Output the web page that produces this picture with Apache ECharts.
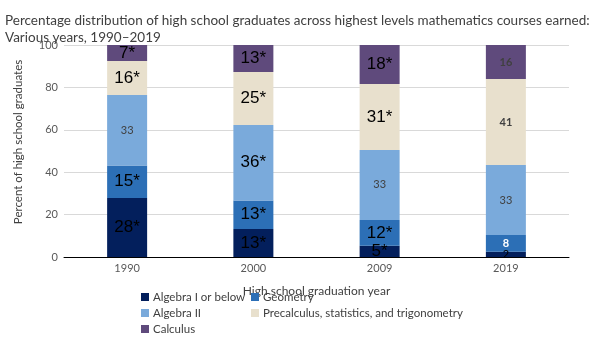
<!DOCTYPE html>
<html>
<head>
<meta charset="utf-8">
<script src="https://cdn.jsdelivr.net/npm/echarts@6/dist/echarts.min.js"></script>
<style>html,body{margin:0;padding:0;background:#fff}#c{width:605px;height:340px}</style>
</head>
<body>
<div id="c"></div>
<script>
const categories = ['1990', '2000', '2009', '2019'];
const seriesNames = ['Algebra I or below', 'Geometry', 'Algebra II', 'Precalculus, statistics, and trigonometry', 'Calculus'];
const algebra1 = [27.8, 13.2, 5.3, 2.5];
const geometry = [15.4, 13.4, 12.2, 7.9];
const algebra2 = [33.2, 35.7, 33.0, 33.0];
const precalc = [16.1, 25.0, 31.1, 40.6];
const calculus = [7.5, 12.7, 18.4, 16.0];
const labelAlgebra1 = ['28*', '13*', '5*', '2'];
const labelGeometry = ['15*', '13*', '12*', '8'];
const labelAlgebra2 = ['33', '36*', '33', '33'];
const labelPrecalc = ['16*', '25*', '31*', '41'];
const labelCalculus = ['7*', '13*', '18*', '16'];
const yTicks = [0, 20, 40, 60, 80, 100];

const values = [algebra1, geometry, algebra2, precalc, calculus];
const labels = [labelAlgebra1, labelGeometry, labelAlgebra2, labelPrecalc, labelCalculus];
const colors = ['#031f5c', '#2c6fb6', '#7aaadb', '#e8e0cd', '#5f4a7c'];
const smallColors = ['#000000', '#ffffff', '#404040', '#404040', '#404040'];

const series = seriesNames.map((name, si) => ({
  name: name,
  type: 'bar',
  stack: 'total',
  barWidth: 40,
  itemStyle: { color: colors[si] },
  data: values[si].map((v, i) => {
    const txt = labels[si][i];
    const big = txt.indexOf('*') >= 0;
    return {
      value: v,
      label: {
        show: true,
        position: 'inside',
        formatter: txt,
        fontFamily: big ? 'Liberation Sans' : 'Lato',
        fontSize: big ? 17 : 11,
        color: big ? '#000000' : smallColors[si],
        fontWeight: (!big && i === 3 && si >= 1 && si !== 2) ? 'bold' : 'normal'
      }
    };
  })
}));

const legendPos = [
  { left: 141, top: 291 },
  { left: 251, top: 291 },
  { left: 141, top: 307 },
  { left: 251, top: 307 },
  { left: 141, top: 323 }
];
const legends = seriesNames.map((n, i) => ({
  data: [n],
  left: legendPos[i].left,
  top: legendPos[i].top,
  padding: 0,
  itemWidth: 8,
  itemHeight: 8,
  itemGap: 4,
  icon: 'rect',
  textStyle: { fontFamily: 'Lato', fontSize: 11.5, color: '#404040', padding: [0, 0, 0, -1] }
}));

const chart = echarts.init(document.getElementById('c'), null, { renderer: 'canvas' });
chart.setOption({
  animation: false,
  backgroundColor: '#fff',
  title: {
    text: 'Percentage distribution of high school graduates across highest levels mathematics courses earned:\nVarious years, 1990–2019',
    left: 5,
    top: 12,
    padding: 0,
    textStyle: { fontFamily: 'Lato', fontSize: 13.5, fontWeight: 'normal', color: '#404040', lineHeight: 17 }
  },
  legend: legends,
  grid: { left: 64, right: 36, top: 45, bottom: 83 },
  xAxis: {
    type: 'category',
    data: categories,
    name: 'High school graduation year',
    nameLocation: 'middle',
    nameGap: 28,
    nameTextStyle: { fontFamily: 'Lato', fontSize: 12, color: '#404040' },
    axisLine: { lineStyle: { color: '#000', width: 1 } },
    axisTick: { show: false },
    axisLabel: { fontFamily: 'Lato', fontSize: 11, color: '#595959', margin: 6 }
  },
  yAxis: {
    type: 'value',
    min: 0,
    max: 100,
    interval: 20,
    name: 'Percent of high school graduates',
    nameLocation: 'middle',
    nameGap: 40,
    nameTextStyle: { fontFamily: 'Lato', fontSize: 11.5, color: '#404040', padding: [0, 0, 0, 18] },
    axisLine: { show: false },
    axisTick: { show: false },
    axisLabel: { fontFamily: 'Lato', fontSize: 11, color: '#595959', margin: 6,
      formatter: v => yTicks.indexOf(v) >= 0 ? String(v) : '' },
    splitLine: { lineStyle: { color: '#d9d9d9', width: 1 } }
  },
  series: series
});
</script>
</body>
</html>
